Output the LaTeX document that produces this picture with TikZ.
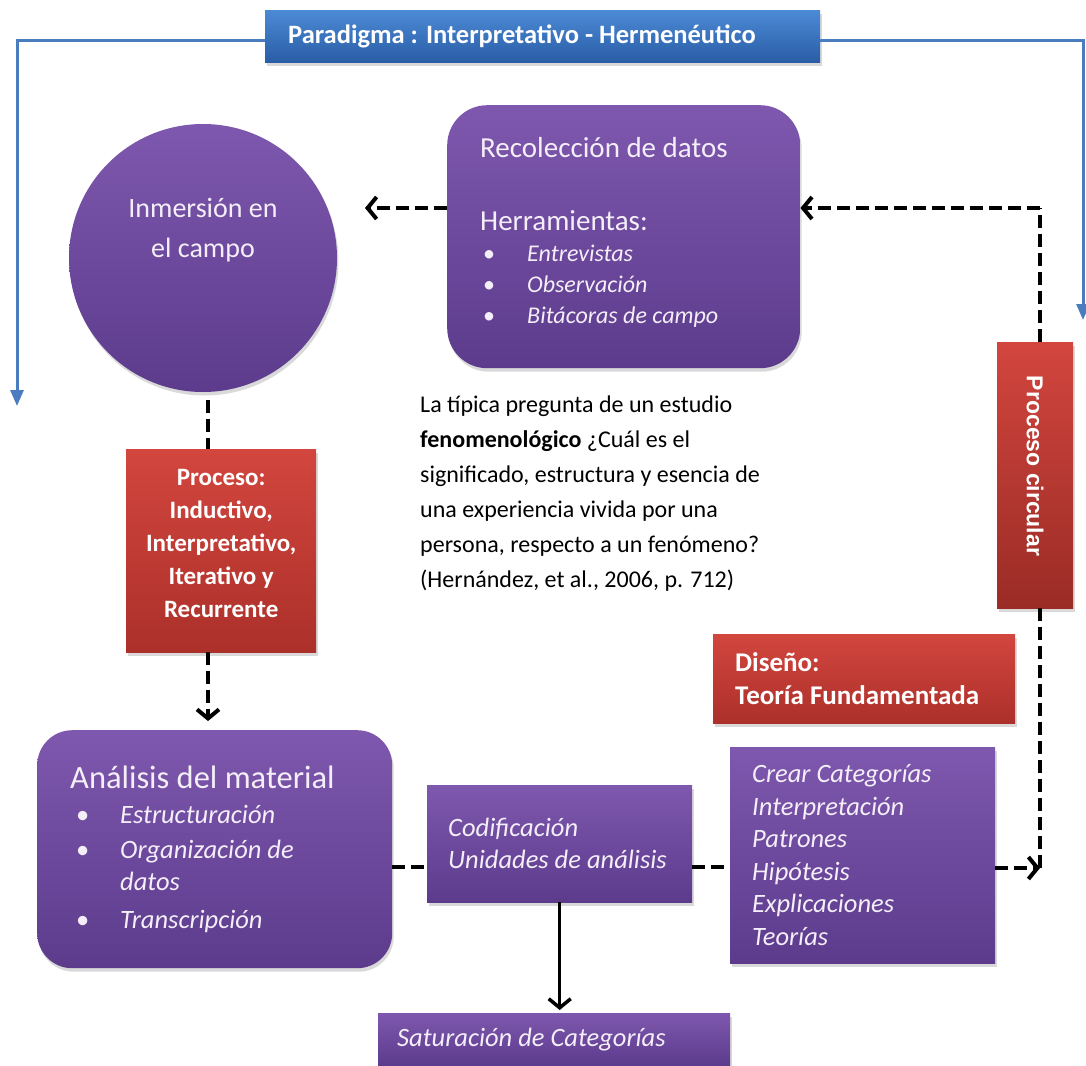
\documentclass[tikz,border=0pt]{standalone}
\usepackage{fontspec}
\setmainfont{Carlito}
\newfontfamily\arialfont{Liberation Sans}
\usetikzlibrary{arrows.meta,shadows}
\definecolor{purpT}{HTML}{7E58AE}
\definecolor{purpB}{HTML}{5C3B8C}
\definecolor{redT}{HTML}{D2463E}
\definecolor{redB}{HTML}{AC302A}
\definecolor{blueT}{HTML}{4C8AD6}
\definecolor{blueB}{HTML}{2A5DA6}
\definecolor{blueL}{HTML}{4A7DBF}
\definecolor{txt}{HTML}{F4EEF8}
\begin{document}
\begin{tikzpicture}[x=1pt,y=-1pt,
  shadowed/.style={drop shadow={opacity=0.3,shadow xshift=1.5pt,shadow yshift=-3.5pt}},
  pbox/.style={rectangle,draw=none,top color=purpT,bottom color=purpB,text=txt,shadowed},
  rbox/.style={rectangle,draw=none,top color=redT,bottom color=redB,text=white,shadowed},
  dline/.style={line width=4pt,dash pattern=on 13pt off 6pt},
  tipbarb/.style={-{Straight Barb[length=9pt,width=22pt]}},
  blueline/.style={line width=3pt,draw=blueL,-{Triangle[length=16pt,width=13pt]}},
  sline/.style={line width=3.5pt}
]
\useasboundingbox (0,0) rectangle (1086,1065);
\clip (0,0) rectangle (1086,1065);

% banner
\node[rectangle,top color=blueT,bottom color=blueB,text=white,shadowed,
      font=\fontsize{26.5}{30}\bfseries\selectfont,minimum height=52pt,
      text width=509pt,inner xsep=23pt,align=flush left,anchor=north west] (par) at (265,10)
      {Paradigma : Interpretativo - Hermenéutico};
\coordinate (bl) at (17,406);
\coordinate (br) at (1083,320);
\draw[blueline] ([yshift=-4pt]par.west) -| (bl);
\draw[blueline] ([yshift=-4pt]par.east) -| (br);

% circle
\node[pbox,circle,minimum size=268pt,inner sep=0pt] (inm) at (203,258) {};
\node[text=txt,font=\fontsize{28}{40}\selectfont,align=flush center] (inmt) at (203,230) {Inmersión en\\el campo};

% recoleccion
\node[pbox,rounded corners=40pt,anchor=north west,minimum height=263pt,
      text width=287pt,inner xsep=33pt,align=flush left,
      font=\fontsize{24}{31}\selectfont] (rec) at (447,105)
{{\fontsize{29}{31}\selectfont Recolección de datos}\\[42pt]
 {\fontsize{29}{31}\selectfont Herramientas:}\\
 \makebox[47pt][l]{\hspace*{3pt}•}\textit{Entrevistas}\\
 \makebox[47pt][l]{\hspace*{3pt}•}\textit{Observación}\\
 \makebox[47pt][l]{\hspace*{3pt}•}\textit{Bitácoras de campo}\\[-19pt]\mbox{}};

% quote
\node[anchor=north west,align=flush left,inner sep=0pt,font=\fontsize{24}{35}\selectfont] (quote) at (420,396)
{La típica pregunta de un estudio\\
 \textbf{fenomenológico} ¿Cuál es el\\
 significado, estructura y esencia de\\
 una experiencia vivida por una\\
 persona, respecto a un fenómeno?\\
 (Hernández, et al., 2006, p. 712)};

% proceso
\node[rbox,anchor=north west,minimum height=203pt,text width=180pt,inner xsep=5pt,
      align=flush center,font=\fontsize{25}{33}\bfseries\selectfont] (proc) at (126,449)
{Proceso:\\Inductivo,\\Interpretativo,\\Iterativo y\\Recurrente\\[-19pt]\mbox{}};

% proceso circular
\node[rectangle,draw=none,top color=redT,bottom color=redB!90!black,text=white,shadowed,
      rotate=-90,minimum width=266pt,minimum height=76pt,inner sep=0pt,
      font=\arialfont\bfseries\fontsize{23}{26}\selectfont] (pc) at (1035,475) {Proceso circular\hspace*{18pt}};

% diseno
\node[rbox,anchor=north west,minimum height=89pt,text width=258pt,inner xsep=22pt,
      align=flush left,font=\fontsize{27}{33}\bfseries\selectfont] (dis) at (713,634)
{Diseño:\\Teoría Fundamentada};

% analisis
\node[pbox,rounded corners=35pt,anchor=north west,minimum height=238pt,
      text width=289pt,inner xsep=33pt,align=flush left,
      font=\fontsize{26.5}{35}\itshape\selectfont] (ana) at (37,730)
{{\upshape\fontsize{32.5}{35}\selectfont Análisis del material}\\
 \makebox[50pt][l]{\hspace*{6pt}\upshape•}Estructuración\\
 \makebox[50pt][l]{\hspace*{6pt}\upshape•}Organización de\\[-3pt]
 \hspace*{50pt}datos\\[3pt]
 \makebox[50pt][l]{\hspace*{6pt}\upshape•}Transcripción};

% codificacion
\node[pbox,anchor=north west,minimum height=117pt,text width=223pt,inner xsep=21pt,
      align=flush left,font=\fontsize{26.5}{32}\itshape\selectfont] (cod) at (427,785)
{Codificación\\Unidades de análisis};

% crear
\node[pbox,anchor=north west,minimum height=216pt,text width=221pt,inner xsep=22pt,
      align=flush left,font=\fontsize{26.5}{32.5}\itshape\selectfont] (cre) at (730,747)
{Crear Categorías\\Interpretación\\Patrones\\Hipótesis\\Explicaciones\\Teorías};

% saturacion
\node[pbox,anchor=north west,minimum height=52pt,text width=314pt,inner xsep=19pt,
      align=flush left,font=\fontsize{26.5}{30}\itshape\selectfont] (sat) at (378,1013)
{Saturación de Categorías};

% connectors
\coordinate (la) at (365,208);
\coordinate (rc) at (1040,208);
\coordinate (rb) at (1040,868);
\coordinate (vx) at (208,0);
\coordinate (my) at (0,867);
\draw[dline,tipbarb] (rec.west |- la) -- (la);
\draw[dline] (pc.west -| rc) -- (rc);
\draw[dline,tipbarb] (rc) -- (rec.east |- rc);
\draw[dline] (pc.east -| rb) -- (rb);
\draw[dline,tipbarb] (cre.east |- rb) -- (rb);
\draw[dline] ([yshift=-8pt]inm.south -| vx) -- (proc.north -| vx);
\draw[dline,tipbarb,shorten >=9pt] (proc.south -| vx) -- (ana.north -| vx);
\draw[dline] (ana.east |- my) -- (cod.west |- my);
\draw[dline] (cod.east |- my) -- (cre.west |- my);
\draw[sline,tipbarb,shorten >=3pt] (cod.south) -- (sat.north -| cod.south);
\end{tikzpicture}
\end{document}
